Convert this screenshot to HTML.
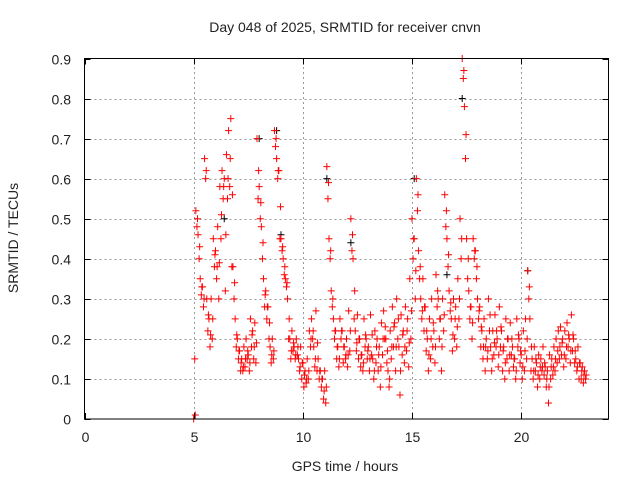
<!DOCTYPE html>
<html><head><meta charset="utf-8"><style>
body{margin:0;background:#fff}
svg text{font-family:"Liberation Sans",sans-serif;font-size:14px;fill:#222}
</style></head><body>
<svg id="chart" width="640" height="480" xmlns="http://www.w3.org/2000/svg">
<rect width="640" height="480" fill="#fff"/>
<g id="grid"></g>
<g id="pts"></g>
<rect x="84.5" y="58.5" width="524" height="360.5" fill="none" stroke="#000" stroke-width="1"/>
<g id="axes"></g>
<text x="345" y="32" text-anchor="middle">Day 048 of 2025, SRMTID for receiver cnvn</text>
<text x="345" y="471" text-anchor="middle">GPS time / hours</text>
<text transform="translate(18,238) rotate(-90)" text-anchor="middle">SRMTID / TECUs</text>
</svg>
<script>
const xTicks=[0,5,10,15,20];
const yTicks=[0,0.1,0.2,0.3,0.4,0.5,0.6,0.7,0.8,0.9];
const yTickLabels=["0","0.1","0.2","0.3","0.4","0.5","0.6","0.7","0.8","0.9"];
const times=[5.0,5.1,5.2,5.3,5.4,5.5,5.6,5.7,5.8,5.9,6.0,6.1,6.2,6.3,6.4,6.5,6.6,6.7,6.8,6.9,7.0,7.1,7.2,7.3,7.4,7.5,7.6,7.7,7.8,7.9,8.0,8.1,8.2,8.3,8.4,8.5,8.6,8.7,8.8,8.9,9.0,9.1,9.2,9.3,9.4,9.5,9.6,9.7,9.8,9.9,10.0,10.1,10.2,10.3,10.4,10.5,10.6,10.7,10.8,10.9,11.0,11.1,11.2,11.3,11.4,11.5,11.6,11.7,11.8,11.9,12.0,12.1,12.2,12.3,12.4,12.5,12.6,12.7,12.8,12.9,13.0,13.1,13.2,13.3,13.4,13.5,13.6,13.7,13.8,13.9,14.0,14.1,14.2,14.3,14.4,14.5,14.6,14.7,14.8,14.9,15.0,15.1,15.2,15.3,15.4,15.5,15.6,15.7,15.8,15.9,16.0,16.1,16.2,16.3,16.4,16.5,16.6,16.7,16.8,16.9,17.0,17.1,17.2,17.3,17.4,17.5,17.6,17.7,17.8,17.9,18.0,18.1,18.2,18.3,18.4,18.5,18.6,18.7,18.8,18.9,19.0,19.1,19.2,19.3,19.4,19.5,19.6,19.7,19.8,19.9,20.0,20.1,20.2,20.3,20.4,20.5,20.6,20.7,20.8,20.9,21.0,21.1,21.2,21.3,21.4,21.5,21.6,21.7,21.8,21.9,22.0,22.1,22.2,22.3,22.4,22.5,22.6,22.7,22.8,22.9];
const valuesA=[0.00,0.52,0.46,0.35,0.33,0.65,0.30,0.25,0.30,0.45,0.42,0.48,0.58,0.62,0.60,0.66,0.72,0.75,0.38,0.25,0.20,0.17,0.15,0.18,0.20,0.16,0.25,0.22,0.24,0.70,0.58,0.48,0.35,0.32,0.28,0.18,0.20,0.72,0.65,0.62,0.45,0.40,0.35,0.30,0.20,0.22,0.18,0.20,0.15,0.18,0.14,0.12,0.15,0.22,0.25,0.18,0.27,0.15,0.12,0.10,0.12,0.63,0.45,0.32,0.25,0.22,0.18,0.25,0.22,0.18,0.20,0.27,0.50,0.40,0.22,0.26,0.20,0.16,0.25,0.20,0.18,0.26,0.15,0.22,0.20,0.18,0.24,0.27,0.20,0.12,0.22,0.28,0.24,0.30,0.18,0.26,0.22,0.28,0.25,0.35,0.50,0.45,0.60,0.42,0.30,0.35,0.28,0.20,0.25,0.30,0.22,0.36,0.30,0.25,0.30,0.56,0.45,0.32,0.25,0.30,0.28,0.35,0.50,0.90,0.78,0.45,0.32,0.28,0.45,0.42,0.30,0.28,0.22,0.25,0.20,0.30,0.18,0.22,0.26,0.20,0.28,0.22,0.18,0.25,0.20,0.24,0.18,0.15,0.25,0.20,0.16,0.22,0.25,0.37,0.25,0.15,0.18,0.14,0.16,0.15,0.18,0.13,0.12,0.16,0.15,0.18,0.20,0.22,0.23,0.20,0.22,0.24,0.20,0.26,0.20,0.15,0.18,0.14,0.13,0.12];
const valuesB=[0.15,0.48,0.40,0.31,0.28,0.60,0.22,0.18,0.20,0.38,0.35,0.30,0.45,0.55,0.32,0.55,0.58,0.38,0.30,0.18,0.15,0.12,0.12,0.13,0.15,0.12,0.18,0.15,0.14,0.55,0.50,0.40,0.28,0.25,0.20,0.14,0.15,0.68,0.60,0.45,0.42,0.36,0.33,0.20,0.15,0.17,0.15,0.16,0.12,0.10,0.08,0.09,0.10,0.18,0.20,0.13,0.12,0.10,0.08,0.05,0.04,0.55,0.40,0.28,0.20,0.15,0.13,0.20,0.14,0.15,0.13,0.17,0.42,0.25,0.17,0.15,0.13,0.12,0.18,0.15,0.12,0.16,0.10,0.14,0.12,0.08,0.16,0.20,0.14,0.08,0.15,0.18,0.12,0.20,0.06,0.16,0.14,0.17,0.13,0.20,0.40,0.30,0.52,0.35,0.25,0.22,0.17,0.12,0.15,0.18,0.14,0.28,0.20,0.12,0.22,0.48,0.38,0.27,0.17,0.20,0.18,0.25,0.40,0.85,0.65,0.35,0.25,0.20,0.40,0.35,0.25,0.18,0.15,0.12,0.15,0.22,0.12,0.16,0.18,0.13,0.18,0.12,0.10,0.15,0.12,0.16,0.13,0.10,0.18,0.14,0.10,0.12,0.15,0.30,0.12,0.10,0.12,0.08,0.10,0.12,0.11,0.08,0.04,0.10,0.11,0.12,0.14,0.15,0.16,0.13,0.15,0.18,0.14,0.17,0.14,0.12,0.10,0.10,0.09,0.10];
const valuesC=[0.01,0.50,0.43,0.33,0.30,0.62,0.26,0.21,0.25,0.41,0.38,0.39,0.51,0.58,0.46,0.60,0.65,0.56,0.34,0.21,0.17,0.14,0.13,0.15,0.17,0.14,0.21,0.18,0.19,0.62,0.54,0.44,0.31,0.28,0.24,0.16,0.17,0.70,0.62,0.53,0.43,0.38,0.34,0.25,0.17,0.19,0.16,0.18,0.13,0.14,0.11,0.10,0.12,0.20,0.22,0.15,0.19,0.12,0.10,0.07,0.08,0.59,0.42,0.30,0.22,0.18,0.15,0.22,0.18,0.16,0.16,0.22,0.46,0.32,0.19,0.20,0.16,0.14,0.21,0.17,0.15,0.21,0.12,0.18,0.16,0.13,0.20,0.23,0.17,0.10,0.18,0.23,0.18,0.25,0.12,0.21,0.18,0.22,0.19,0.27,0.45,0.37,0.56,0.38,0.27,0.28,0.22,0.16,0.20,0.24,0.18,0.32,0.25,0.18,0.26,0.52,0.41,0.29,0.21,0.25,0.23,0.30,0.45,0.87,0.71,0.40,0.28,0.24,0.42,0.38,0.27,0.23,0.18,0.18,0.17,0.26,0.15,0.19,0.22,0.16,0.23,0.17,0.14,0.20,0.16,0.20,0.15,0.12,0.21,0.17,0.13,0.17,0.20,0.33,0.18,0.12,0.15,0.11,0.13,0.13,0.14,0.10,0.08,0.13,0.13,0.15,0.17,0.18,0.19,0.16,0.18,0.21,0.17,0.21,0.17,0.13,0.14,0.12,0.11,0.11];
const blackTimes=[6.4,8.0,8.8,9.0,11.1,12.2,15.1,16.6,17.3,20.3];
const blackValues=[0.50,0.70,0.72,0.46,0.60,0.44,0.60,0.36,0.80,0.37];

const NS="http://www.w3.org/2000/svg";
const X0=84.5,X1=608.5,Y0=419,Y1=58.5;
const xs=t=>X0+(t/24)*(X1-X0);
const ys=v=>Y0-(v/0.9)*(Y0-Y1);
function mk(tag,attrs,parent){const e=document.createElementNS(NS,tag);for(const k in attrs)e.setAttribute(k,attrs[k]);parent.appendChild(e);return e;}
const grid=document.getElementById('grid'),axes=document.getElementById('axes'),pts=document.getElementById('pts');
yTicks.forEach((v,i)=>{
  const y=Math.round(ys(v))+0.5;
  if(i>0&&i<yTicks.length-1){const g=mk('line',{x1:X0,x2:X1,y1:y,y2:y,stroke:'#999','stroke-dasharray':'2,3'},grid);
  
  }
  const t=mk('line',{x1:X0,x2:X0+6,y1:y,y2:y,stroke:'#000'},axes);
  
  
  mk('line',{x1:X1-6,x2:X1,y1:y,y2:y,stroke:'#000'},axes);
  const l=mk('text',{x:71,y:y+5,'text-anchor':'end'},axes);l.textContent=yTickLabels[i];
  
  
});
xTicks.forEach(h=>{
  const x=Math.round(xs(h))+0.5;
  if(h>0){const g=mk('line',{x1:x,x2:x,y1:Y0,y2:Y1,stroke:'#999','stroke-dasharray':'2,3'},grid);
  
  }
  mk('line',{x1:x,x2:x,y1:Y0,y2:Y0-6,stroke:'#000'},axes);
  mk('line',{x1:x,x2:x,y1:Y1,y2:Y1+6,stroke:'#000'},axes);
  const l=mk('text',{x:x,y:442,'text-anchor':'middle'},axes);l.textContent=String(h);
  
  
});
function plus(t,v,col,name){
  if(v===undefined)return;
  const x=xs(t),y=ys(v);
  const p=mk('path',{d:`M${x-3.5} ${y}H${x+3.5}M${x} ${y-3.5}V${y+3.5}`,stroke:col,'stroke-width':1,fill:'none'},pts);
  
  
}
blackTimes.forEach((t,i)=>plus(t,blackValues[i],'#000','black-point'));
times.forEach((t,i)=>{plus(t,valuesA[i],'#f00','red-point');plus(t+0.05,valuesB[i],'#f00','red-point');plus(t+0.075,valuesC[i],'#f00','red-point');});
</script>
</body></html>
